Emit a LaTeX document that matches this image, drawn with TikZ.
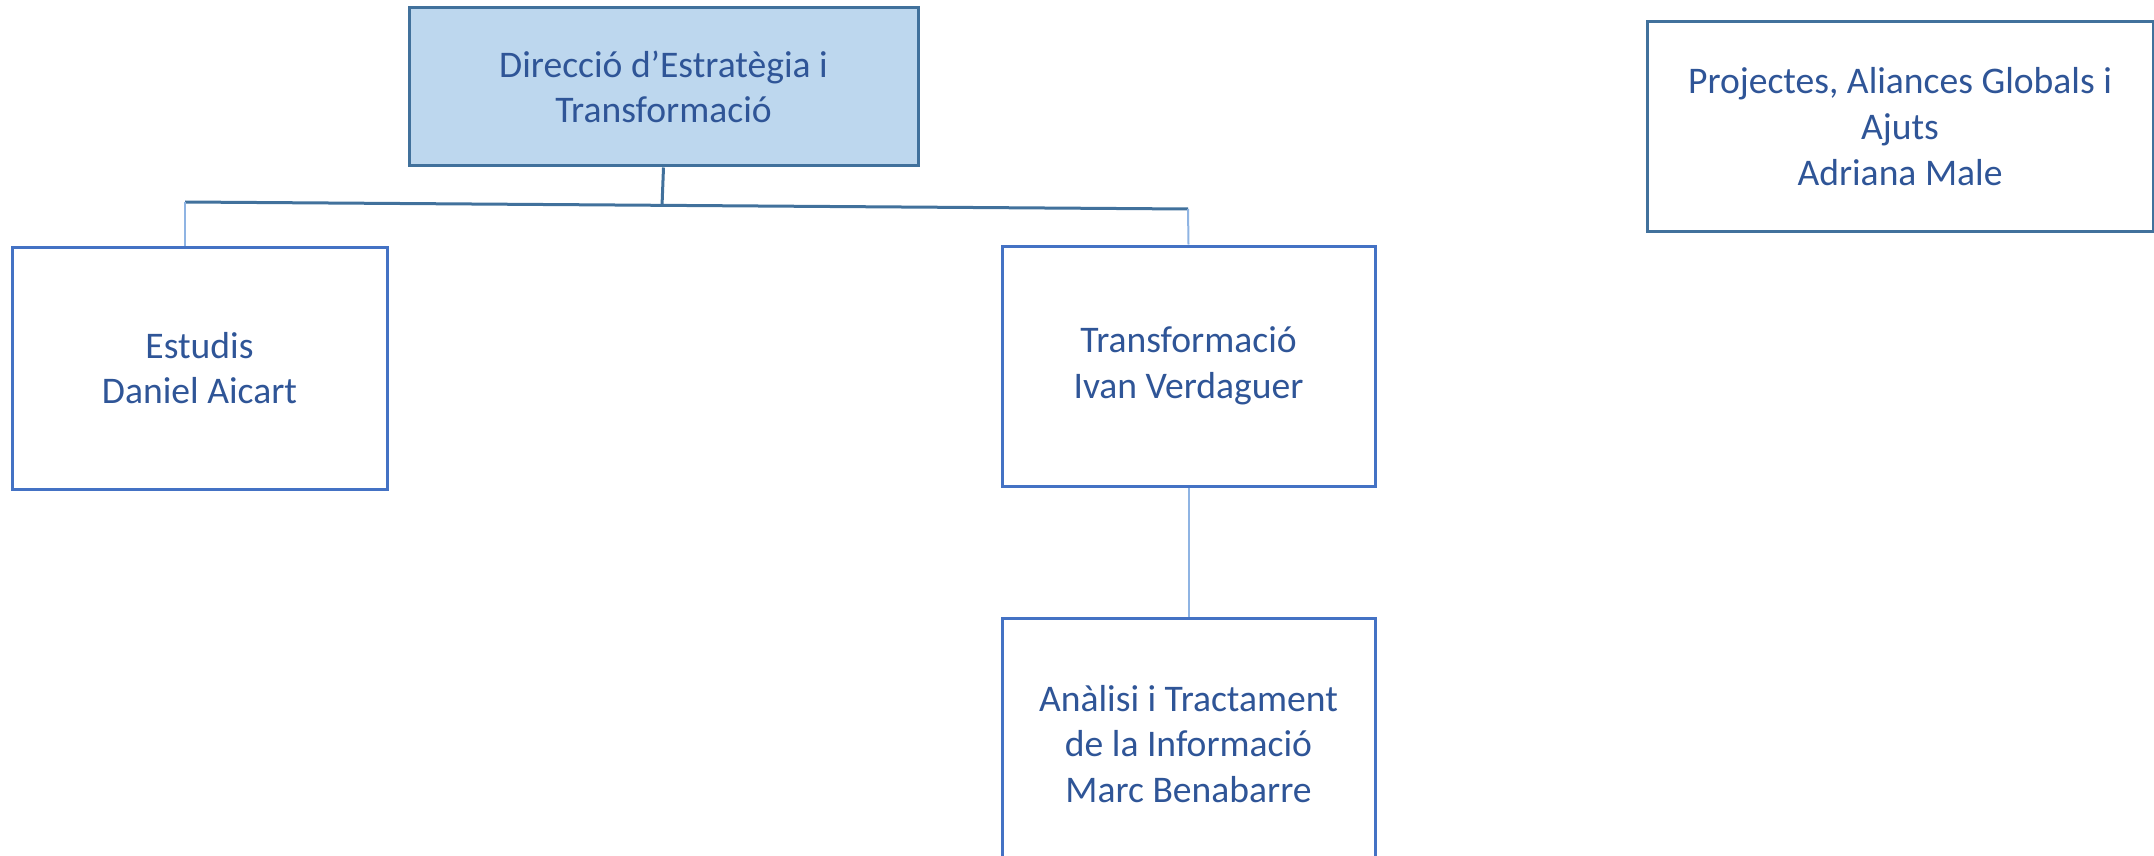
\documentclass[tikz,border=0pt]{standalone}
\usepackage{fontspec}
\setmainfont{Carlito}
\definecolor{txtblue}{HTML}{2F5597}
\definecolor{brdblue}{HTML}{4472C4}
\definecolor{darkbrd}{HTML}{41719C}
\definecolor{topfill}{HTML}{BDD7EE}
\definecolor{lightln}{HTML}{8FB4E3}
\begin{document}
\begin{tikzpicture}[x=0.5pt,y=-0.5pt,
  orgbox/.style={draw=brdblue, line width=1.5pt, inner sep=0pt, align=center,
    text=txtblue, font=\fontsize{18.8pt}{22.8pt}\selectfont},
  darkbox/.style={orgbox, draw=darkbrd},
  mainln/.style={draw=darkbrd, line width=1.5pt},
  thinln/.style={draw=lightln, line width=1pt}]
\useasboundingbox (0,0) rectangle (2154,856);
\node[darkbox, fill=topfill, minimum width=254.5pt, minimum height=79pt] (top) at (663.5,87)
  {Direcció d’Estratègia i\\Transformació};
\node[orgbox, minimum width=187.5pt, minimum height=121pt] (estudis) at (199.5,368)
  {Estudis\\Daniel Aicart};
\node[orgbox, minimum width=186.5pt, minimum height=120pt] (transf) at (1188.5,366)
  {Transformació\\Ivan Verdaguer};
\node[orgbox, minimum width=186.5pt, minimum height=126pt] (analisi) at (1188.5,744)
  {Anàlisi i Tractament\\de la Informació\\Marc Benabarre};
\node[darkbox, minimum width=253pt, minimum height=104.5pt] (proj) at (1900,126.5)
  {Projectes, Aliances Globals i\\Ajuts\\Adriana Male};
\coordinate (hl) at (185,202);
\coordinate (hr) at (1188,209);
\coordinate (hm) at (662,206);
\draw[mainln] (top.south) -- (hm);
\draw[mainln] (hl) -- (hr);
\draw[thinln] (hl) -- (hl |- estudis.north);
\draw[thinln] (hr) -- (transf.north);
\draw[thinln] (transf.south) -- (analisi.north);
\end{tikzpicture}
\end{document}
